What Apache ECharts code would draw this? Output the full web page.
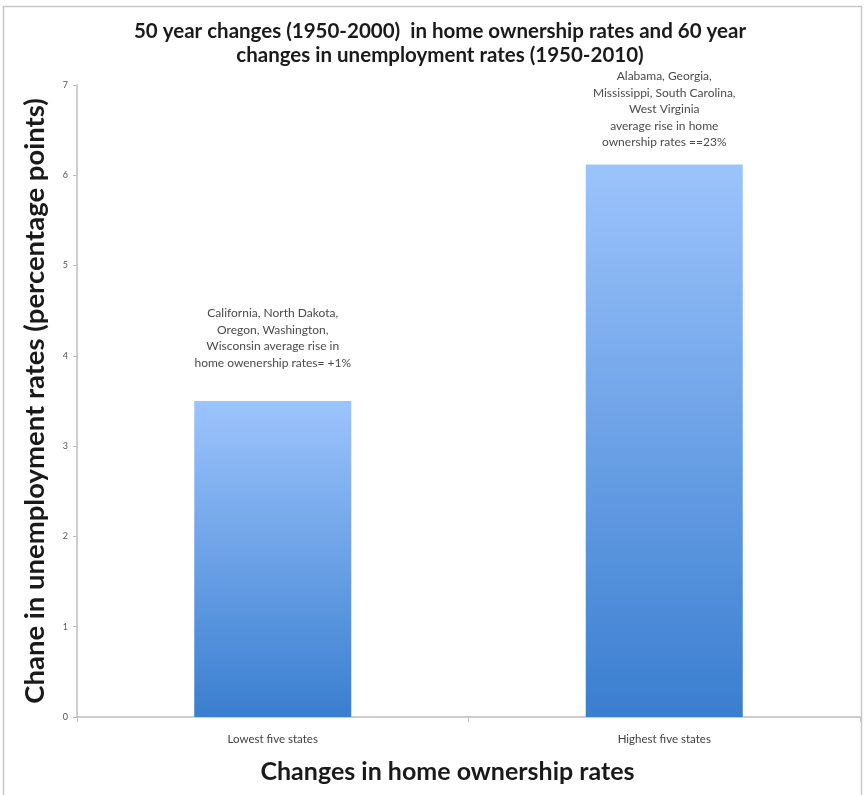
<!DOCTYPE html>
<html>
<head>
<meta charset="utf-8">
<title>Home ownership vs unemployment</title>
<script src="https://cdn.jsdelivr.net/npm/echarts@6/dist/echarts.min.js"></script>
<style>
  html, body { margin: 0; padding: 0; background: #fff; }
  #main { width: 864px; height: 795px; }
</style>
</head>
<body>
<div id="main"></div>
<script>
// categories and values
var categories = ['Lowest five states', 'Highest five states'];
var values = [3.5, 6.12];
var notes = [
    'California, North Dakota,\nOregon, Washington,\nWisconsin average rise in\nhome owenership rates= +1%',
    'Alabama, Georgia,\nMississippi, South Carolina,\nWest Virginia\naverage rise in home\nownership rates ==23%'
];
var noteGaps = [30, 14];
var yTicks = [0, 7, 1];

var dom = document.getElementById('main');
var myChart = echarts.init(dom);

var barColor = new echarts.graphic.LinearGradient(0, 0, 0, 1, [
    {offset: 0, color: '#9cc4fc'},
    {offset: 1, color: '#3a7ed0'}
]);

var data = values.map(function (v, i) {
    return {
        value: v,
        label: {
            show: true,
            position: 'top',
            distance: noteGaps[i],
            formatter: notes[i],
            color: '#4a4a4a',
            fontSize: 12,
            lineHeight: 16.5,
            fontFamily: 'Lato'
        }
    };
});

var option = {
    backgroundColor: '#fff',
    animation: false,
    title: {
        text: '50 year changes (1950-2000)  in home ownership rates and 60 year\nchanges in unemployment rates (1950-2010)',
        left: 435,
        textAlign: 'center',
        top: 14,
        textStyle: {
            fontFamily: 'Lato',
            fontWeight: 'bold',
            fontSize: 20.5,
            lineHeight: 24,
            color: '#1a1a1a'
        }
    },
    graphic: [{
        type: 'rect',
        shape: {x: 3.5, y: 6.5, width: 858, height: 790},
        style: {fill: 'none', stroke: '#c8c8c8', lineWidth: 1.5},
        silent: true
    }],
    grid: {left: 77, right: 4, top: 85, bottom: 78},
    xAxis: {
        type: 'category',
        data: categories,
        axisLine: {lineStyle: {color: '#bdbdbd', width: 1.5}},
        axisTick: {show: true, alignWithLabel: false, length: 5, lineStyle: {color: '#bdbdbd'}},
        axisLabel: {color: '#404040', fontSize: 11.5, fontFamily: 'Lato', margin: 16},
        name: 'Changes in home ownership rates',
        nameLocation: 'middle',
        nameGap: 42,
        nameTextStyle: {
            fontFamily: 'Lato',
            fontWeight: 'bold',
            fontSize: 25,
            color: '#1a1a1a',
            padding: [0, 42, 0, 0]
        }
    },
    yAxis: {
        type: 'value',
        min: yTicks[0],
        max: yTicks[1],
        interval: yTicks[2],
        splitLine: {show: false},
        axisLine: {show: true, lineStyle: {color: '#bdbdbd', width: 1.5}},
        axisTick: {show: true, length: 4, lineStyle: {color: '#bdbdbd'}},
        axisLabel: {color: '#555', fontSize: 9, fontFamily: 'Lato', margin: 9},
        name: 'Chane in unemployment rates (percentage points)',
        nameLocation: 'middle',
        nameGap: 28,
        nameTextStyle: {
            fontFamily: 'Lato',
            fontWeight: 'bold',
            fontSize: 27.5,
            color: '#1a1a1a'
        }
    },
    series: [{
        name: 'Change',
        type: 'bar',
        barWidth: 157,
        data: data,
        itemStyle: {color: barColor}
    }]
};

myChart.setOption(option, true);
</script>
</body>
</html>
